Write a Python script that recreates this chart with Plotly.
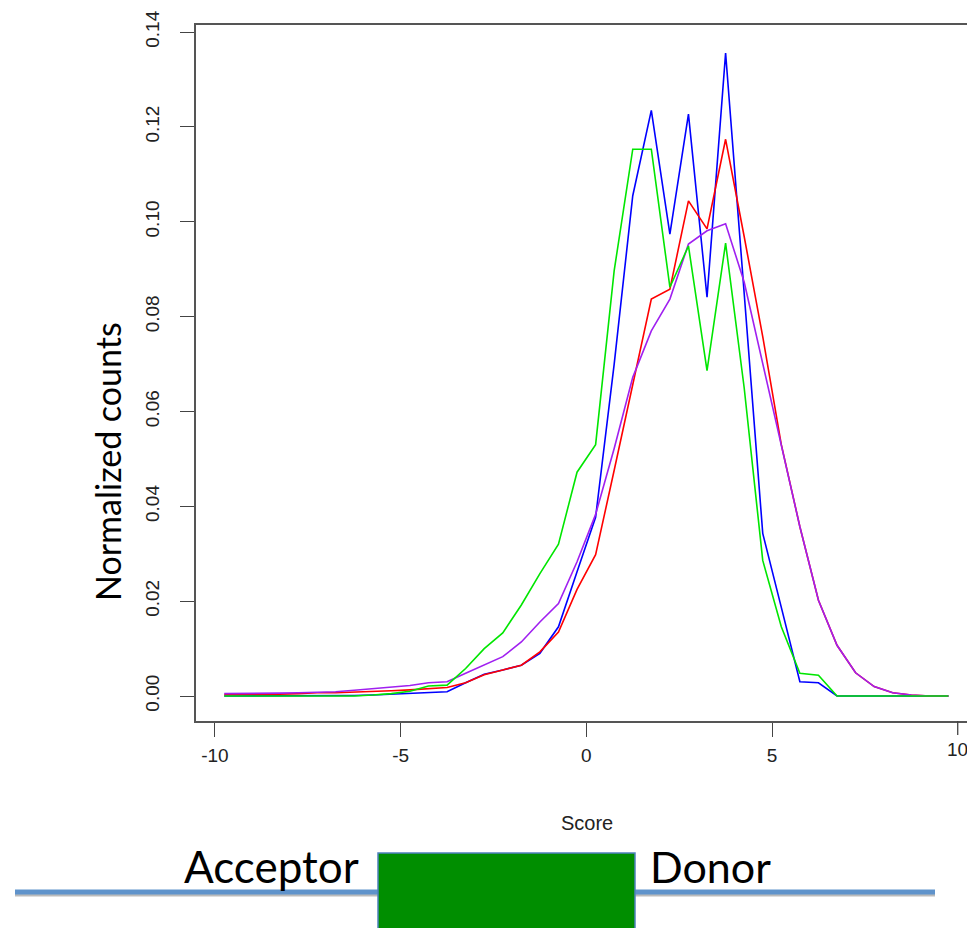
import plotly.graph_objects as go

score = [-9.75, -9.25, -8.75, -8.25, -7.75, -7.25, -6.75, -6.25, -5.75, -5.25,
         -4.75, -4.25, -3.75, -3.25, -2.75, -2.25, -1.75, -1.25, -0.75, -0.25,
         0.25, 0.75, 1.25, 1.75, 2.25, 2.75, 3.25, 3.75, 4.25, 4.75,
         5.25, 5.75, 6.25, 6.75, 7.25, 7.75, 8.25, 8.75, 9.25, 9.75]

blue = [0, 0, 0, 0, 0, 0, 0, 0.0001, 0.0002, 0.0004,
        0.0006, 0.0008, 0.0009, 0.0028, 0.0046, 0.0055, 0.0065, 0.0090, 0.0146, 0.0262,
        0.0377, 0.0700, 0.1055, 0.1235, 0.0974, 0.1227, 0.0841, 0.1356, 0.0855, 0.0343,
        0.0187, 0.0030, 0.0028, 0, 0, 0, 0, 0, 0, 0]

red = [0.0003, 0.0003, 0.0003, 0.0004, 0.0005, 0.0007, 0.0007, 0.0008, 0.0009, 0.0011,
       0.0013, 0.0016, 0.0018, 0.0028, 0.0045, 0.0055, 0.0065, 0.0093, 0.0135, 0.0225,
       0.0298, 0.0476, 0.0660, 0.0837, 0.0858, 0.1044, 0.0985, 0.1174, 0.0969, 0.0758,
       0.0530, 0.0357, 0.0202, 0.0107, 0.0049, 0.0020, 0.0007, 0.0002, 0, 0]

green = [0, 0, 0, 0, 0, 0, 0, 0, 0.0002, 0.0005,
         0.0010, 0.0021, 0.0023, 0.0058, 0.0100, 0.0133, 0.0192, 0.0258, 0.0320, 0.0472,
         0.0530, 0.0897, 0.1153, 0.1153, 0.0862, 0.0949, 0.0686, 0.0955, 0.0650, 0.0286,
         0.0146, 0.0048, 0.0044, 0, 0, 0, 0, 0, 0, 0]

purple = [0.0005, 0.0005, 0.0005, 0.0006, 0.0007, 0.0008, 0.0009, 0.0012, 0.0015, 0.0019,
          0.0022, 0.0028, 0.0030, 0.0048, 0.0065, 0.0083, 0.0114, 0.0156, 0.0195, 0.0283,
          0.0383, 0.0522, 0.0672, 0.0770, 0.0837, 0.0953, 0.0981, 0.0996, 0.0873, 0.0700,
          0.0526, 0.0357, 0.0202, 0.0107, 0.0049, 0.0020, 0.0007, 0.0002, 0, 0]

x_ticks = [-10, -5, 0, 5, 10]
x_tick_text = ["-10", "-5", "0", "5", "10"]
y_ticks = [0.00, 0.02, 0.04, 0.06, 0.08, 0.10, 0.12, 0.14]
y_tick_text = ["0.00", "0.02", "0.04", "0.06", "0.08", "0.10", "0.12", "0.14"]

series = [("blue", blue, "#0000ff"), ("red", red, "#ff0000"),
          ("purple", purple, "#a020f0"), ("green", green, "#00e600")]

fig = go.Figure()
for name, vals, col in series:
    fig.add_trace(go.Scatter(x=score, y=vals, mode="lines", name=name,
                             line=dict(color=col, width=1.6), showlegend=False))

W, H = 967, 928
L, T, B = 196, 25, 207
pw, ph = W - L, H - T - B

def px(x):
    return (x - L) / pw

def py(y):
    return (H - B - y) / ph

axis_font = dict(family="Liberation Sans, Arial, sans-serif", size=19, color="#222")
fig.update_layout(
    width=W, height=H,
    margin=dict(l=L, r=0, t=T, b=B, pad=0),
    plot_bgcolor="white", paper_bgcolor="white",
    xaxis=dict(range=[-10.51, 10.25], tickvals=x_ticks[:-1], ticktext=x_tick_text[:-1],
               ticks="outside", ticklen=14,
               tickwidth=1.3, tickcolor="#444", showline=True, linecolor="#555",
               linewidth=1.6, mirror=True, showgrid=False, zeroline=False,
               tickfont=axis_font, ticklabelstandoff=2),
    yaxis=dict(range=[-0.00527, 0.1415], tickvals=y_ticks, ticktext=y_tick_text,
               ticks="outside", ticklen=14, tickwidth=1.3, tickcolor="#444",
               showline=True, linecolor="#555", linewidth=1.6, showgrid=False,
               zeroline=False, tickangle=-90, tickfont=axis_font, ticklabelstandoff=14),
)

# last x tick (partly cut by the right edge in the original)
fig.add_shape(type="line", xref="x", yref="paper", x0=x_ticks[-1], x1=x_ticks[-1],
              y0=py(721), y1=py(735), line=dict(color="#444", width=1.3))
fig.add_annotation(text=x_tick_text[-1], xref="x", yref="paper", x=x_ticks[-1], y=py(737),
                   showarrow=False, xanchor="center", yanchor="top",
                   font=axis_font)

ann_font = "Lato, Calibri, sans-serif"
fig.add_annotation(text="Score", xref="paper", yref="paper", x=px(587), y=py(823),
                   showarrow=False, xanchor="center", yanchor="middle",
                   font=dict(family="Liberation Sans, Arial, sans-serif", size=20, color="#222"))
fig.add_annotation(text="Normalized counts", xref="paper", yref="paper", x=px(107), y=py(462),
                   showarrow=False, textangle=-90, xanchor="center", yanchor="middle",
                   font=dict(family=ann_font, size=34, color="black"))

# gene diagram below the chart
fig.add_shape(type="line", xref="paper", yref="paper", x0=px(15), x1=px(935),
              y0=py(894), y1=py(894), line=dict(color="#bbbbbb", width=5), layer="above")
fig.add_shape(type="line", xref="paper", yref="paper", x0=px(15), x1=px(935),
              y0=py(892), y1=py(892), line=dict(color="#5f93cb", width=5), layer="above")
fig.add_shape(type="rect", xref="paper", yref="paper", x0=px(378), x1=px(635),
              y0=py(935), y1=py(853), fillcolor="#008e00",
              line=dict(color="#4f81bd", width=1.5), layer="above")
fig.add_annotation(text="Acceptor", xref="paper", yref="paper", x=px(271), y=py(866),
                   showarrow=False, xanchor="center", yanchor="middle",
                   font=dict(family=ann_font, size=44, color="black"))
fig.add_annotation(text="Donor", xref="paper", yref="paper", x=px(710), y=py(866),
                   showarrow=False, xanchor="center", yanchor="middle",
                   font=dict(family=ann_font, size=43, color="black"))

fig.write_html("out.html")
